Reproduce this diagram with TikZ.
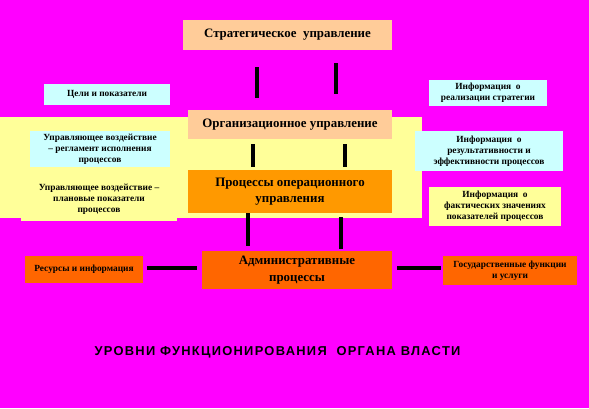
\documentclass[tikz,border=0pt]{standalone}
\usepackage{fontspec}
\setmainfont{Liberation Serif}
\setsansfont{Liberation Sans}
\usepackage{tikz}
\definecolor{bgMagenta}{RGB}{255, 0, 255}
\definecolor{bandYellow}{RGB}{255, 255, 153}
\definecolor{boxPeach}{RGB}{255, 204, 153}
\definecolor{boxOrange}{RGB}{255, 153, 0}
\definecolor{boxRed}{RGB}{255, 102, 0}
\definecolor{boxCyan}{RGB}{204, 255, 255}

\begin{document}
\begin{tikzpicture}[x=0.03cm, y=-0.03cm,
    bigbox/.style={inner sep=0pt, align=center, font=\fontsize{11}{14}\selectfont\bfseries},
    smallbox/.style={inner sep=0pt, align=center, font=\fontsize{8}{9.5}\selectfont\bfseries},
    link/.style={line width=2.6pt}]
        % background and the yellow band
        \fill[bgMagenta] (0,0) rectangle (589,408);
        \fill[bandYellow] (0,117) rectangle (422,218);
        % levels
        \node[bigbox, fill=boxPeach, minimum width=209*0.03cm, minimum height=30*0.03cm] (strat) at (287.5,35) {Стратегическое\ \ управление};
        \node[bigbox, fill=boxPeach, minimum width=204*0.03cm, minimum height=29*0.03cm] (org) at (290,124.5) {Организационное управление};
        \node[bigbox, fill=boxOrange, minimum width=204*0.03cm, minimum height=43*0.03cm] (ops) at (290,191.5) {Процессы операционного\\управления};
        \node[bigbox, fill=boxRed, minimum width=190*0.03cm, minimum height=38*0.03cm] (adm) at (297,270) {Административные\\процессы};
        % side boxes
        \node[smallbox, fill=boxRed, minimum width=118*0.03cm, minimum height=27*0.03cm] (res) at (84,269.5) {Ресурсы и информация};
        \node[smallbox, fill=boxRed, minimum width=134*0.03cm, minimum height=29*0.03cm] (gov) at (510,270.5) {Государственные функции\\и услуги};
        \node[smallbox, fill=boxCyan, minimum width=126*0.03cm, minimum height=21*0.03cm] (goals) at (107,94.5) {Цели и показатели};
        \node[smallbox, fill=boxCyan, minimum width=140*0.03cm, minimum height=36*0.03cm] (regl) at (100,149) {Управляющее воздействие\\– регламент исполнения\\процессов};
        \node[smallbox, fill=bandYellow, minimum width=156*0.03cm, minimum height=43*0.03cm] (plan) at (99,199.5) {Управляющее воздействие –\\плановые показатели\\процессов};
        \node[smallbox, fill=boxCyan, minimum width=118*0.03cm, minimum height=26*0.03cm] (infStrat) at (488,93) {Информация\ \ о\\реализации стратегии};
        \node[smallbox, fill=boxCyan, minimum width=148*0.03cm, minimum height=40*0.03cm] (infEff) at (489,151) {Информация\ \ о\\результативности и\\эффективности процессов};
        \node[smallbox, fill=bandYellow, minimum width=132*0.03cm, minimum height=39*0.03cm] (infFact) at (495,206.5) {Информация\ \ о\\фактических значениях\\показателей процессов};
        % links between levels
        \draw[link, shorten <=0.51cm, shorten >=0.36cm] (257,0 |- strat.south) -- (257,0 |- org.north);
        \draw[link, shorten <=0.39cm, shorten >=0.48cm] (336,0 |- strat.south) -- (336,0 |- org.north);
        \draw[link, shorten <=0.15cm, shorten >=0.09cm] (253,0 |- org.south) -- (253,0 |- ops.north);
        \draw[link, shorten <=0.15cm, shorten >=0.09cm] (345,0 |- org.south) -- (345,0 |- ops.north);
        \draw[link, shorten >=0.15cm] (248,0 |- ops.south) -- (248,0 |- adm.north);
        \draw[link, shorten <=0.12cm, shorten >=0.06cm] (341,0 |- ops.south) -- (341,0 |- adm.north);
        \draw[link, shorten <=0.12cm, shorten >=0.15cm] (res.east |- 0,268) -- (adm.west |- 0,268);
        \draw[link, shorten <=0.15cm, shorten >=0.06cm] (adm.east |- 0,268) -- (gov.west |- 0,268);
        % caption
        \node[font=\sffamily\bfseries\fontsize{11}{13}\selectfont\addfontfeature{LetterSpace=10}] (title) at (277.5,352) {УРОВНИ ФУНКЦИОНИРОВАНИЯ\ \ ОРГАНА ВЛАСТИ};
      \end{tikzpicture}
\end{document}
